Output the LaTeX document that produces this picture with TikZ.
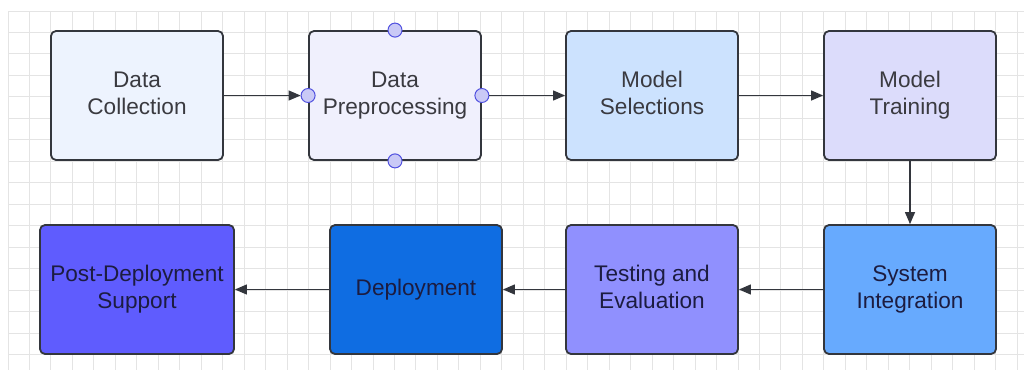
\documentclass[tikz,border=0pt]{standalone}
\usepackage{fontspec}
\setmainfont{Liberation Sans}
\usetikzlibrary{arrows.meta}
\definecolor{gridc}{HTML}{E4E4E4}
\definecolor{edgec}{HTML}{33363D}
\definecolor{txtc}{HTML}{3A3A40}
\definecolor{txtd}{HTML}{1C1C40}
\definecolor{cA}{HTML}{EDF3FE}
\definecolor{cB}{HTML}{F0F0FD}
\definecolor{cC}{HTML}{CCE2FE}
\definecolor{cD}{HTML}{DCDCFB}
\definecolor{cE}{HTML}{67AAFE}
\definecolor{cF}{HTML}{9090FE}
\definecolor{cG}{HTML}{0F6DE2}
\definecolor{cH}{HTML}{5F5CFE}
\definecolor{handlefill}{HTML}{C9C9F6}
\definecolor{handleedge}{HTML}{5252E0}
\newcommand{\boxline}[1]{\strut#1}
\begin{document}
\begin{tikzpicture}[x=1pt,y=-1pt,
  stepbox/.style={draw=edgec, line width=1.8pt, rounded corners=5pt, minimum width=172pt, minimum height=129pt, inner sep=0pt, align=center, font=\fontsize{22.6}{27}\selectfont, text=txtc},
  darkbox/.style={stepbox, text=txtd},
  flow/.style={draw=edgec, line width=1.2pt, -{Triangle[length=12pt,width=10pt]}},
  handle/.style={circle, draw=handleedge, fill=handlefill, line width=1pt, minimum size=14pt, inner sep=0pt}
]
\useasboundingbox (0,0) rectangle (1024,370);
\fill[white] (0,0) rectangle (1024,370);
\foreach \i in {0,...,47} {\draw[gridc, line width=0.9pt] ({8+21.47*\i},11) -- ({8+21.47*\i},370);}
\foreach \j in {0,...,16} {\draw[gridc, line width=0.9pt] (8,{11+21.47*\j}) -- (1024,{11+21.47*\j});}

\node[stepbox, fill=cA] (dc) at (137,95.5) {\boxline{Data}\\\boxline{Collection}};
\node[stepbox, fill=cB] (dp) at (395,95.5) {\boxline{Data}\\\boxline{Preprocessing}};
\node[stepbox, fill=cC] (ms) at (652,95.5) {\boxline{Model}\\\boxline{Selections}};
\node[stepbox, fill=cD] (mt) at (910,95.5) {\boxline{Model}\\\boxline{Training}};
\node[darkbox, fill=cE] (si) at (910,289.5) {\boxline{System}\\\boxline{Integration}};
\node[darkbox, fill=cF] (te) at (652,289.5) {\boxline{Testing and}\\\boxline{Evaluation}};
\node[darkbox, fill=cG] (de) at (416,289.5) {Deployment};
\node[darkbox, fill=cH, minimum width=194pt] (pd) at (137,289.5) {\boxline{Post-Deployment}\\\boxline{Support}};

\node[handle] (hl) at (dp.west) {};
\node[handle] (hr) at (dp.east) {};
\node[handle] (ht) at (dp.north) {};
\node[handle] (hb) at (dp.south) {};

\draw[flow] (dc.east) -- (hl.west);
\draw[flow] (hr.east) -- (ms.west);
\draw[flow] (ms.east) -- (mt.west);
\draw[flow] (mt.south) -- (si.north);
\draw[flow] (si.west) -- (te.east);
\draw[flow] (te.west) -- (de.east);
\draw[flow] (de.west) -- (pd.east);
\end{tikzpicture}
\end{document}
